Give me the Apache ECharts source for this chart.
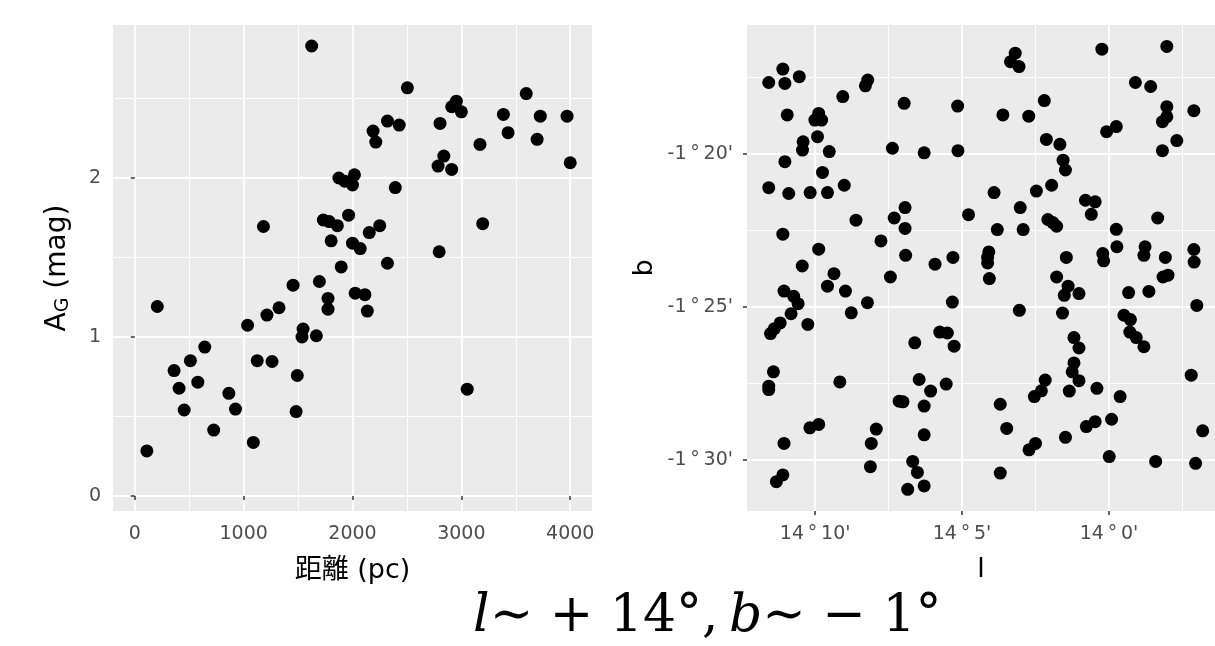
<!DOCTYPE html>
<html>
<head>
<meta charset="utf-8">
<script src="https://cdn.jsdelivr.net/npm/echarts@6/dist/echarts.min.js"></script>
<style>
html,body{margin:0;padding:0;background:#fff;}
#chart{width:1215px;height:646px;}
</style>
</head>
<body>
<div id="chart"></div>
<script>
// ---- Left panel: distance (pc) vs A_G (mag) ----
const distance = [1625,2504,3596,2954,2911,3000,3386,3725,3971,3429,3696,2804,2321,2429,2189,2214,3171,4000,2839,2786,2911,1875,1929,2018,2000,2393,1964,1732,1786,1861,1182,2250,2154,3196,1804,2000,2071,2796,1896,2321,1696,1454,1775,1775,2025,2114,2136,1325,1214,207,1036,1546,1536,1668,643,511,361,1125,1261,1493,579,407,864,454,925,1482,725,1089,111,3054];
const extinction = [2.83,2.567,2.531,2.483,2.448,2.416,2.40,2.389,2.389,2.285,2.243,2.343,2.358,2.333,2.295,2.226,2.211,2.096,2.138,2.075,2.054,2.0,1.98,2.02,1.956,1.94,1.766,1.736,1.726,1.70,1.695,1.70,1.657,1.713,1.605,1.59,1.556,1.536,1.441,1.464,1.349,1.326,1.243,1.175,1.276,1.266,1.163,1.184,1.138,1.192,1.074,1.05,1.0,1.008,0.937,0.851,0.789,0.851,0.846,0.758,0.716,0.678,0.646,0.541,0.547,0.531,0.415,0.337,0.284,0.672];
const distTicks = [0,1000,2000,3000,4000];
const distMinor = [500,1500,2500,3500];
const extTicks = [0,1,2];
const extMinor = [0.5,1.5,2.5];

// ---- Right panel: galactic l, b (arcminutes; 840 = 14°0', -80 = -1°20') ----
const glon = [851.10,851.58,851.03,850.54,850.95,849.88,850.01,849.78,849.92,850.41,850.43,849.52,851.03,849.75,851.58,850.90,850.17,849.58,849.01,849.06,848.21,848.29,846.97,845.15,847.37,846.29,845.14,843.19,843.35,843.06,840.24,838.03,842.20,843.61,842.73,839.10,838.58,838.03,838.03,838.18,837.11,840.08,839.75,842.13,841.67,841.56,841.48,837.69,838.18,843.91,842.47,841.95,840.80,840.47,840.60,843.02,844.78,848.61,847.31,846.94,846.94,842.08,841.91,841.78,843.80,842.92,838.34,839.75,851.10,847.76,849.88,846.92,845.92,845.31,844.09,844.13,844.13,844.07,841.45,840.21,840.18,839.73,838.77,838.81,838.08,837.11,837.10,850.44,849.36,849.58,848.97,847.44,841.78,841.39,841.02,841.52,839.33,838.64,838.16,837.99,851.06,850.73,850.58,848.22,845.33,848.77,837.01,
843.05,841.58,839.49,839.27,850.82,851.19,851.39,851.52,850.25,839.29,839.07,838.81,845.76,845.50,845.27,846.61,841.19,841.02,851.42,851.58,851.58,849.16,846.46,846.07,845.54,847.14,847.01,846.29,843.70,843.48,842.17,842.30,842.54,841.19,841.25,841.02,841.35,840.41,839.62,837.20,836.81,850.18,849.88,847.92,848.09,848.12,846.29,839.91,840.47,840.77,841.48,842.50,842.72,851.06,851.32,851.10,846.68,846.52,846.85,846.29,843.70,839.99,838.41,837.05];
const glat = [-77.22,-77.66,-77.69,-77.47,-78.72,-78.67,-78.89,-78.89,-79.43,-79.60,-79.87,-79.92,-80.25,-80.60,-81.10,-81.29,-81.26,-81.26,-81.02,-78.12,-77.58,-77.77,-78.34,-78.43,-79.81,-79.96,-79.89,-76.70,-76.98,-77.14,-76.57,-76.48,-78.25,-78.72,-78.76,-77.66,-77.79,-78.45,-78.78,-78.94,-78.58,-79.27,-79.10,-79.52,-79.68,-80.20,-80.52,-79.56,-79.89,-81.26,-81.21,-81.02,-81.51,-81.56,-81.97,-81.75,-81.98,-82.16,-82.09,-81.75,-82.43,-82.14,-82.24,-82.36,-82.47,-82.47,-82.09,-82.46,-82.62,-82.84,-83.11,-83.31,-83.60,-83.38,-83.20,-83.38,-83.56,-84.07,-83.38,-83.25,-83.49,-83.03,-83.03,-83.31,-83.38,-83.12,-83.53,-83.66,-83.91,-84.32,-84.48,-84.02,-84.02,-84.32,-84.56,-84.62,-84.53,-84.49,-84.02,-83.96,-84.48,-84.65,-84.89,-84.86,-84.84,-85.19,-84.95,
-85.11,-85.20,-85.27,-85.41,-85.22,-85.52,-85.71,-85.87,-85.57,-85.82,-86.00,-86.30,-85.82,-85.85,-86.28,-86.17,-86.00,-86.34,-87.12,-87.59,-87.70,-87.45,-87.37,-87.75,-87.52,-88.08,-88.10,-88.24,-88.18,-88.97,-87.39,-87.74,-87.93,-86.83,-87.12,-87.41,-87.75,-87.66,-87.93,-87.23,-89.05,-88.95,-88.84,-88.99,-89.46,-90.22,-89.18,-88.67,-88.75,-88.91,-89.26,-89.46,-89.67,-89.46,-90.71,-90.49,-90.05,-90.41,-90.96,-90.85,-90.43,-89.89,-90.05,-90.11];
const lTicks = [840,845,850];
const lMinor = [837.5,842.5,847.5];
const bTicks = [-90,-85,-80];
const bMinor = [-87.5,-82.5,-77.5];

const leftPts = distance.map((d,i)=>[d, extinction[i]]);
const rightPts = glon.map((l,i)=>[l, glat[i]]);

const SANS = '"DejaVu Sans", "Noto Sans CJK JP", sans-serif';
const tickLabel = {color:'#4D4D4D', fontSize:19, fontFamily:SANS};
const tickStyle = {lineStyle:{color:'#333333', width:1.5}, length:4, inside:false};
const majorSplit = {show:true, lineStyle:{color:'#FFFFFF', width:1.8}};
const minorSplit = {show:true, lineStyle:{color:'#FFFFFF', width:0.9}};

function fmtNum(v){ return String(v); }
function fmtL(v){ const d=Math.floor(v/60+1e-9); const m=Math.round(v-d*60); return d+'\u2009°\u2009'+m+"'"; }
function fmtB(v){ const a=Math.abs(v); const d=Math.floor(a/60+1e-9); const m=Math.round(a-d*60); return (v<0?'-':'')+d+'\u2009°\u2009'+m+"'"; }

function majorAxis(gridIndex, min, max, ticks, extra){
  return Object.assign({
    type:'value', gridIndex, min, max,
    axisLine:{show:false},
    axisTick:Object.assign({show:true, customValues:ticks}, tickStyle),
    axisLabel:Object.assign({customValues:ticks, formatter:fmtNum}, tickLabel),
    splitLine:majorSplit
  }, extra||{});
}
function minorAxis(gridIndex, min, max, ticks, extra){
  return Object.assign({
    type:'value', gridIndex, min, max,
    axisLine:{show:false},
    axisTick:{show:false, customValues:ticks},
    axisLabel:{show:false, customValues:ticks},
    splitLine:minorSplit
  }, extra||{});
}

const TITLE = {color:'#000', fontSize:27, fontFamily:SANS};

const option = {
  animation:false,
  backgroundColor:'#FFFFFF',
  grid:[
    {left:113, right:623, top:25, bottom:135, show:true, backgroundColor:'#EBEBEB', borderWidth:0},
    {left:747, right:0, top:25, bottom:135, show:true, backgroundColor:'#EBEBEB', borderWidth:0}
  ],
  xAxis:[
    majorAxis(0, -200, 4200, distTicks, {name:'距離 (pc)', nameLocation:'middle', nameGap:46, nameTextStyle:TITLE,
      axisLabel:Object.assign({customValues:distTicks, margin:14, formatter:fmtNum}, tickLabel)}),
    minorAxis(0, -200, 4200, distMinor),
    majorAxis(1, 836.39, 852.32, lTicks, {inverse:true, name:'l', nameLocation:'middle', nameGap:45, nameTextStyle:TITLE,
      axisLabel:Object.assign({customValues:lTicks, margin:14, formatter:fmtL}, tickLabel)}),
    minorAxis(1, 836.39, 852.32, lMinor, {inverse:true})
  ],
  yAxis:[
    majorAxis(0, -0.094, 2.962, extTicks, {name:'{a|A}{s|G}{a| (mag)}', nameLocation:'middle', nameGap:40,
      nameTextStyle:Object.assign({}, TITLE, {rich:{a:{fontSize:28, fontFamily:SANS, color:'#000'}, s:{fontSize:19, fontFamily:SANS, color:'#000', padding:[11,0,0,0]}}}),
      axisLabel:Object.assign({customValues:extTicks, margin:12, formatter:fmtNum}, tickLabel)}),
    minorAxis(0, -0.094, 2.962, extMinor),
    majorAxis(1, -91.67, -75.78, bTicks, {name:'b', nameLocation:'middle', nameGap:89, nameTextStyle:TITLE,
      axisLabel:Object.assign({customValues:bTicks, margin:14, formatter:fmtB}, tickLabel)}),
    minorAxis(1, -91.67, -75.78, bMinor)
  ],
  series:[
    {type:'scatter', xAxisIndex:0, yAxisIndex:0, data:leftPts, symbolSize:13, itemStyle:{color:'#000', opacity:1}},
    {type:'scatter', xAxisIndex:2, yAxisIndex:2, data:rightPts, symbolSize:13, itemStyle:{color:'#000', opacity:1}}
  ],
  graphic:[
    {type:'text', left:473, top:591, style:{
      text:'{i|l}{n|∼ + 14°,\u2009}{i|b}{n|∼ − 1°}',
      rich:{
        i:{fontFamily:'"DejaVu Serif", serif', fontStyle:'italic', fontSize:52, fill:'#000'},
        n:{fontFamily:'"DejaVu Serif", serif', fontSize:52, fill:'#000'}
      }
    }}
  ]
};
const chart = echarts.init(document.getElementById('chart'), null, {renderer:'canvas'});
chart.setOption(option);
</script>
</body>
</html>
